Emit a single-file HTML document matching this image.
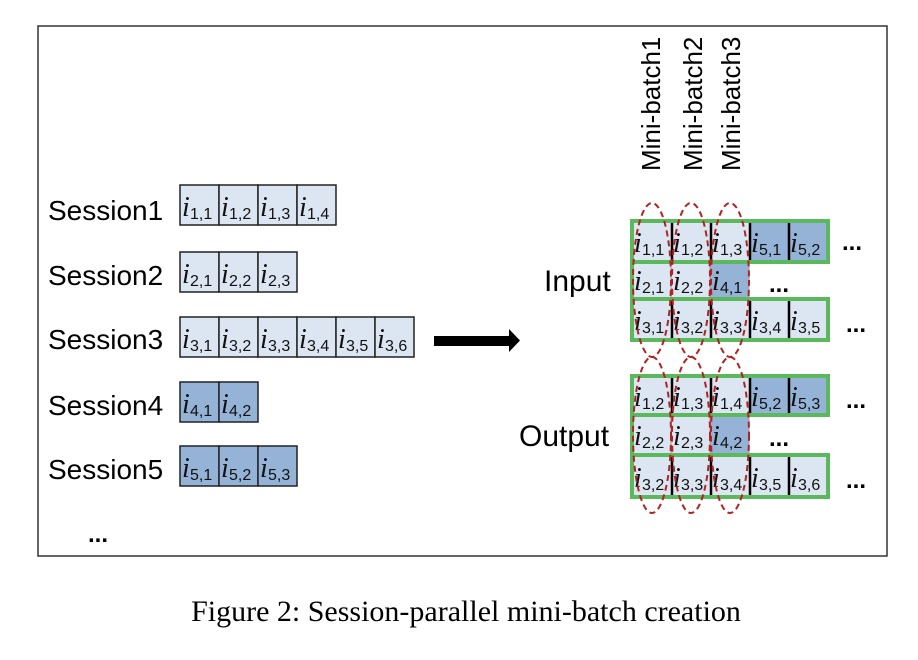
<!DOCTYPE html>
<html><head><meta charset="utf-8"><style>
html,body{margin:0;padding:0;background:#fff;}
svg{display:block;}
.s{font-family:"Liberation Sans",sans-serif;font-size:28px;fill:#000;}
.i{font-family:"Liberation Serif",serif;font-style:italic;font-size:28px;fill:#111;}
.b{font-family:"Liberation Sans",sans-serif;font-size:16px;fill:#111;}
.lt{fill:#dce6f2;stroke:#222;stroke-width:1.5;}
.dk{fill:#95b3d7;stroke:#222;stroke-width:1.5;}
.lr{fill:#dce6f2;}
.dr{fill:#95b3d7;}
.g{fill:none;stroke:#5cb85c;stroke-width:4;}
.e{fill:none;stroke:#b22222;stroke-width:2;stroke-dasharray:6,4;}
.sep{stroke:#000;stroke-width:2.5;}
.dots{font-family:"Liberation Sans",sans-serif;font-size:24px;font-weight:bold;fill:#000;}
</style></head><body>
<svg width="918" height="660" viewBox="0 0 918 660" xmlns="http://www.w3.org/2000/svg">
<rect x="38" y="26" width="849" height="530" fill="#fff" stroke="#333" stroke-width="1.5"/>

<text class="s" x="48" y="220">Session1</text>
<text class="s" x="48" y="285">Session2</text>
<text class="s" x="48" y="349">Session3</text>
<text class="s" x="48" y="415">Session4</text>
<text class="s" x="48" y="479">Session5</text>

<g>
<rect class="lt" x="180" y="185" width="39" height="40"/><rect class="lt" x="219" y="185" width="39" height="40"/><rect class="lt" x="258" y="185" width="39" height="40"/><rect class="lt" x="297" y="185" width="39" height="40"/>
<text class="i" x="182" y="216">i</text><text class="b" x="190" y="219">1,1</text>
<text class="i" x="221" y="216">i</text><text class="b" x="229" y="219">1,2</text>
<text class="i" x="260" y="216">i</text><text class="b" x="268" y="219">1,3</text>
<text class="i" x="299" y="216">i</text><text class="b" x="307" y="219">1,4</text>

<rect class="lt" x="180" y="252" width="39" height="40"/><rect class="lt" x="219" y="252" width="39" height="40"/><rect class="lt" x="258" y="252" width="39" height="40"/>
<text class="i" x="182" y="283">i</text><text class="b" x="190" y="286">2,1</text>
<text class="i" x="221" y="283">i</text><text class="b" x="229" y="286">2,2</text>
<text class="i" x="260" y="283">i</text><text class="b" x="268" y="286">2,3</text>

<rect class="lt" x="180" y="317" width="39" height="40"/><rect class="lt" x="219" y="317" width="39" height="40"/><rect class="lt" x="258" y="317" width="39" height="40"/><rect class="lt" x="297" y="317" width="39" height="40"/><rect class="lt" x="336" y="317" width="39" height="40"/><rect class="lt" x="375" y="317" width="39" height="40"/>
<text class="i" x="182" y="348">i</text><text class="b" x="190" y="351">3,1</text>
<text class="i" x="221" y="348">i</text><text class="b" x="229" y="351">3,2</text>
<text class="i" x="260" y="348">i</text><text class="b" x="268" y="351">3,3</text>
<text class="i" x="299" y="348">i</text><text class="b" x="307" y="351">3,4</text>
<text class="i" x="338" y="348">i</text><text class="b" x="346" y="351">3,5</text>
<text class="i" x="377" y="348">i</text><text class="b" x="385" y="351">3,6</text>

<rect class="dk" x="180" y="382" width="39" height="40"/><rect class="dk" x="219" y="382" width="39" height="40"/>
<text class="i" x="182" y="413">i</text><text class="b" x="190" y="416">4,1</text>
<text class="i" x="221" y="413">i</text><text class="b" x="229" y="416">4,2</text>

<rect class="dk" x="180" y="446" width="39" height="40"/><rect class="dk" x="219" y="446" width="39" height="40"/><rect class="dk" x="258" y="446" width="39" height="40"/>
<text class="i" x="182" y="477">i</text><text class="b" x="190" y="480">5,1</text>
<text class="i" x="221" y="477">i</text><text class="b" x="229" y="480">5,2</text>
<text class="i" x="260" y="477">i</text><text class="b" x="268" y="480">5,3</text>
</g>
<text class="dots" x="88" y="542">...</text>

<polygon points="434,336 509,336 509,329 520,340.5 509,352 509,346 434,346" fill="#000"/>

<text class="s" style="font-size:26px" transform="translate(660,171) rotate(-90)">Mini-batch1</text>
<text class="s" style="font-size:26px" transform="translate(702,171) rotate(-90)">Mini-batch2</text>
<text class="s" style="font-size:26px" transform="translate(740,171) rotate(-90)">Mini-batch3</text>

<text class="s" x="544" y="291" style="font-size:30px">Input</text>
<text class="s" x="519" y="446" style="font-size:30px">Output</text>

<rect class="lr" x="632" y="221" width="117" height="41"/><rect class="dr" x="749" y="221" width="79" height="41"/>
<rect class="lr" x="632" y="262" width="78" height="37"/><rect class="dr" x="710" y="262" width="39" height="37"/>
<rect class="lr" x="632" y="299" width="196" height="41"/>
<line x1="671" y1="262" x2="671" y2="299" stroke="#999" stroke-width="1"/>
<line x1="710" y1="262" x2="710" y2="299" stroke="#999" stroke-width="1"/>
<line x1="749" y1="262" x2="749" y2="299" stroke="#999" stroke-width="1"/>
<g class="sep">
<line x1="672" y1="223" x2="672" y2="260"/><line x1="711" y1="223" x2="711" y2="260"/><line x1="750" y1="223" x2="750" y2="260"/><line x1="789" y1="223" x2="789" y2="260"/>
<line x1="672" y1="301" x2="672" y2="338"/><line x1="711" y1="301" x2="711" y2="338"/><line x1="750" y1="301" x2="750" y2="338"/><line x1="789" y1="301" x2="789" y2="338"/>
</g>
<rect class="g" x="632" y="221" width="196" height="41"/>
<rect class="g" x="632" y="299" width="196" height="41"/>
<line x1="632" y1="262" x2="632" y2="299" stroke="#5cb85c" stroke-width="4"/>

<text class="i" x="634" y="252">i</text><text class="b" x="642" y="255">1,1</text>
<text class="i" x="673" y="252">i</text><text class="b" x="681" y="255">1,2</text>
<text class="i" x="712" y="252">i</text><text class="b" x="720" y="255">1,3</text>
<text class="i" x="751" y="252">i</text><text class="b" x="759" y="255">5,1</text>
<text class="i" x="790" y="252">i</text><text class="b" x="798" y="255">5,2</text>
<text class="dots" x="842" y="250">...</text>
<text class="i" x="634" y="290">i</text><text class="b" x="642" y="293">2,1</text>
<text class="i" x="673" y="290">i</text><text class="b" x="681" y="293">2,2</text>
<text class="i" x="712" y="290">i</text><text class="b" x="720" y="293">4,1</text>
<text class="dots" x="769" y="292">...</text>
<text class="i" x="634" y="330">i</text><text class="b" x="642" y="333">3,1</text>
<text class="i" x="673" y="330">i</text><text class="b" x="681" y="333">3,2</text>
<text class="i" x="712" y="330">i</text><text class="b" x="720" y="333">3,3</text>
<text class="i" x="751" y="330">i</text><text class="b" x="759" y="333">3,4</text>
<text class="i" x="790" y="330">i</text><text class="b" x="798" y="333">3,5</text>
<text class="dots" x="846" y="332">...</text>

<rect class="lr" x="632" y="376" width="117" height="39"/><rect class="dr" x="749" y="376" width="79" height="39"/>
<rect class="lr" x="632" y="415" width="78" height="40"/><rect class="dr" x="710" y="415" width="39" height="40"/>
<rect class="lr" x="632" y="455" width="196" height="42"/>
<line x1="671" y1="415" x2="671" y2="455" stroke="#999" stroke-width="1"/>
<line x1="710" y1="415" x2="710" y2="455" stroke="#999" stroke-width="1"/>
<line x1="749" y1="415" x2="749" y2="455" stroke="#999" stroke-width="1"/>
<g class="sep">
<line x1="672" y1="378" x2="672" y2="413"/><line x1="711" y1="378" x2="711" y2="413"/><line x1="750" y1="378" x2="750" y2="413"/><line x1="789" y1="378" x2="789" y2="413"/>
<line x1="672" y1="457" x2="672" y2="495"/><line x1="711" y1="457" x2="711" y2="495"/><line x1="750" y1="457" x2="750" y2="495"/><line x1="789" y1="457" x2="789" y2="495"/>
</g>
<rect class="g" x="632" y="376" width="196" height="39"/>
<rect class="g" x="632" y="455" width="196" height="42"/>
<line x1="632" y1="415" x2="632" y2="455" stroke="#5cb85c" stroke-width="4"/>

<text class="i" x="634" y="406">i</text><text class="b" x="642" y="409">1,2</text>
<text class="i" x="673" y="406">i</text><text class="b" x="681" y="409">1,3</text>
<text class="i" x="712" y="406">i</text><text class="b" x="720" y="409">1,4</text>
<text class="i" x="751" y="406">i</text><text class="b" x="759" y="409">5,2</text>
<text class="i" x="790" y="406">i</text><text class="b" x="798" y="409">5,3</text>
<text class="dots" x="846" y="408">...</text>
<text class="i" x="634" y="445">i</text><text class="b" x="642" y="448">2,2</text>
<text class="i" x="673" y="445">i</text><text class="b" x="681" y="448">2,3</text>
<text class="i" x="712" y="445">i</text><text class="b" x="720" y="448">4,2</text>
<text class="dots" x="769" y="446">...</text>
<text class="i" x="634" y="487">i</text><text class="b" x="642" y="490">3,2</text>
<text class="i" x="673" y="487">i</text><text class="b" x="681" y="490">3,3</text>
<text class="i" x="712" y="487">i</text><text class="b" x="720" y="490">3,4</text>
<text class="i" x="751" y="487">i</text><text class="b" x="759" y="490">3,5</text>
<text class="i" x="790" y="487">i</text><text class="b" x="798" y="490">3,6</text>
<text class="dots" x="846" y="488">...</text>

<ellipse class="e" cx="652" cy="280" rx="19" ry="77"/>
<ellipse class="e" cx="691" cy="280" rx="19" ry="77"/>
<ellipse class="e" cx="730" cy="280" rx="19" ry="77"/>
<ellipse class="e" cx="652" cy="435" rx="19" ry="78"/>
<ellipse class="e" cx="691" cy="435" rx="19" ry="78"/>
<ellipse class="e" cx="730" cy="435" rx="19" ry="78"/>

<text x="466" y="621" text-anchor="middle" style="font-family:'Liberation Serif',serif;font-size:30px;fill:#000">Figure 2: Session-parallel mini-batch creation</text>
</svg>
</body></html>
